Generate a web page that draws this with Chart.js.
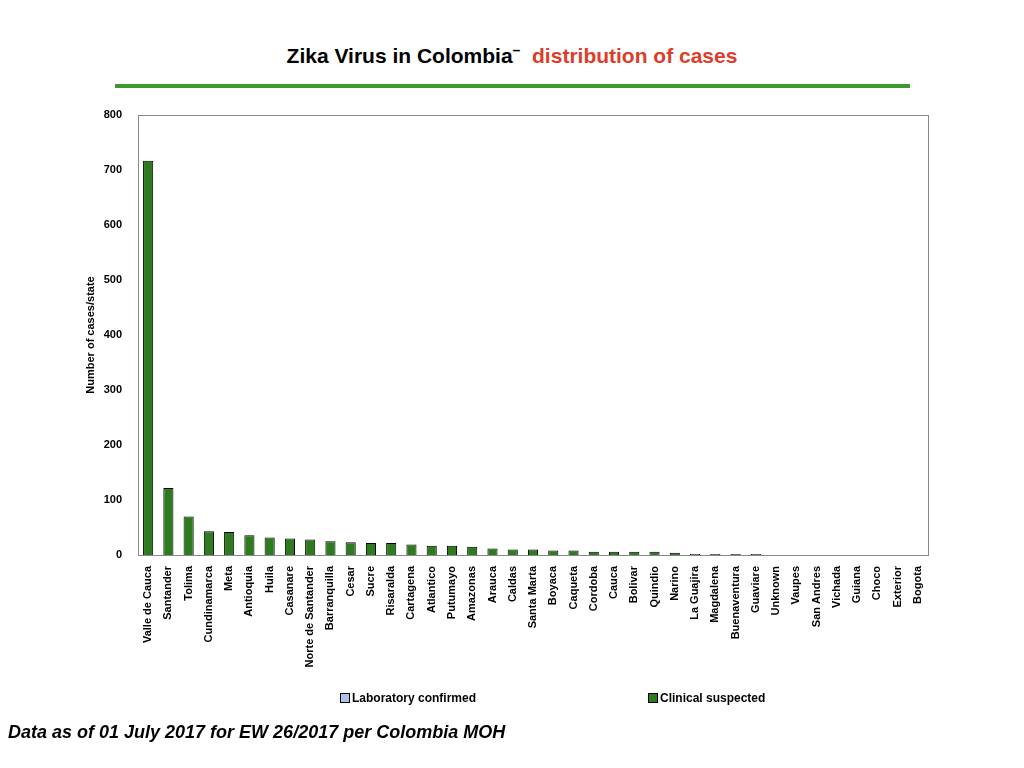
<!DOCTYPE html>
<html><head><meta charset="utf-8">
<script src="https://cdn.jsdelivr.net/npm/chart.js@4"></script>
<style>
body{margin:0;width:1024px;height:768px;background:#fff;font-family:"Liberation Sans",Arial,sans-serif;position:relative;overflow:hidden}
#t{position:absolute;top:42px;left:0;width:1024px;text-align:center;font-weight:bold;font-size:21px}
#line{position:absolute;top:84px;left:115px;width:795px;height:4px;background:#3c9a2e}
#c{position:absolute;left:0;top:0}
.lg{position:absolute;top:691px;font-size:12px;font-weight:bold}
.sw{display:inline-block;width:8px;height:8px;border:1px solid #000;margin-right:2px;vertical-align:-1px}
#note{position:absolute;left:8px;top:722px;font-size:18px;font-weight:bold;font-style:italic}
</style></head><body>
<div id="t">Zika Virus in Colombia<sup style="font-size:14px">–</sup>&nbsp; <span style="color:#e03c2a">distribution of cases</span></div>
<div id="line"></div>
<canvas id="c" width="1024" height="768"></canvas>
<div class="lg" style="left:340px"><span class="sw" style="background:#a9c4e8"></span>Laboratory confirmed</div>
<div class="lg" style="left:648px"><span class="sw" style="background:#2e7a1f"></span>Clinical suspected</div>
<div id="note">Data as of 01 July 2017 for EW 26/2017 per Colombia MOH</div>
<script>
// categorías y valores
const states = ["Valle de Cauca","Santander","Tolima","Cundinamarca","Meta","Antioquia","Huila","Casanare","Norte de Santander","Barranquilla","Cesar","Sucre","Risaralda","Cartagena","Atlantico","Putumayo","Amazonas","Arauca","Caldas","Santa Marta","Boyaca","Caqueta","Cordoba","Cauca","Bolivar","Quindio","Narino","La Guajira","Magdalena","Buenaventura","Guaviare","Unknown","Vaupes","San Andres","Vichada","Guiana","Choco","Exterior","Bogota"];
const labConfirmed = states.map(() => 0);
const clinicalSuspected = [717,122,70,43,42,36,32,30,28,25,23,22,22,19,17,17,15,12,10,10,8,8,6,6,6,6,4,2,2,2,2,0,0,0,0,0,0,0,0];
const yTicks = [0,100,200,300,400,500,600,700,800];

const font = {family:"Liberation Sans, Arial", size:11, weight:"bold"};
const frame = {
  id:"frame",
  afterDraw(ch){
    const a = ch.chartArea, x = ch.ctx;
    x.save(); x.strokeStyle="#888"; x.lineWidth=1;
    x.strokeRect(a.left+0.5,a.top+0.5,a.right-a.left,a.bottom-a.top); x.restore();
  }
};
new Chart(document.getElementById("c").getContext("2d"), {
  type:"bar",
  data:{
    labels:states,
    datasets:[
      {label:"Laboratory confirmed",data:labConfirmed,backgroundColor:"#a9c4e8",borderColor:"#000",borderWidth:1,barPercentage:0.5,categoryPercentage:1},
      {label:"Clinical suspected",data:clinicalSuspected,backgroundColor:"#2e7a1f",borderColor:"#000",borderWidth:1,barPercentage:0.5,categoryPercentage:1}
    ]
  },
  plugins:[frame],
  options:{
    responsive:false, animation:false,
    layout:{padding:{left:80,top:115,right:96,bottom:78}},
    plugins:{legend:{display:false},tooltip:{enabled:false}},
    scales:{
      x:{stacked:true,grid:{display:false},border:{color:"#888"},
        ticks:{color:"#000",font,maxRotation:90,minRotation:90,autoSkip:false},
        afterFit(s){s.height=135;}},
      y:{stacked:true,min:0,max:800,grid:{display:false},border:{color:"#888"},
        afterBuildTicks(s){s.ticks=yTicks.map(v=>({value:v}));},
        ticks:{color:"#000",font,padding:8},
        title:{display:true,text:"Number of cases/state",color:"#000",font},
        afterFit(s){s.width=58;}}
    }
  }
});
</script>
</body></html>
